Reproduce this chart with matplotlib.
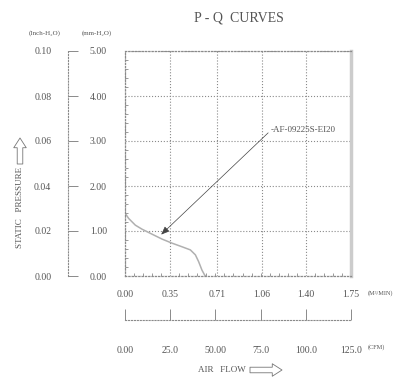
import matplotlib
matplotlib.use('Agg')
import matplotlib.pyplot as plt
from matplotlib.ticker import MultipleLocator

plt.rcParams['font.family'] = ['Liberation Serif', 'DejaVu Serif', 'DejaVu Sans']

# P-Q curve of AF-09225S-EI20 (air flow in m3/min, static pressure in mm-H2O)
flow_m3 = [0.00, 0.028, 0.08, 0.132, 0.209, 0.287, 0.364, 0.441, 0.506,
           0.545, 0.57, 0.596, 0.617, 0.625]
press_mm = [1.40, 1.28, 1.13, 1.04, 0.93, 0.82, 0.73, 0.65, 0.58,
            0.47, 0.32, 0.13, 0.02, 0.00]

m3_ticks = [0.00, 0.35, 0.71, 1.06, 1.40, 1.75]
m3_labels = ['0.00', '0.35', '0.71', '1.06', '1.40', '1.75']
cfm_ticks = [0, 25, 50, 75, 100, 125]
cfm_labels = ['0.00', '25.0', '50.00', '75.0', '100.0', '125.0']
mm_ticks = [0, 1, 2, 3, 4, 5]
mm_labels = ['0.00', '1.00', '2.00', '3.00', '4.00', '5.00']
inch_ticks = [0.00, 0.02, 0.04, 0.06, 0.08, 0.10]
inch_labels = ['0.00', '0.02', '0.04', '0.06', '0.08', '0.10']

model = 'AF-09225S-EI20'
label_pt = (1.13, 3.24)
arrow_pt = (0.28, 0.92)

W, H = 403, 384
txt = '#555555'
ln = '#8a8a8a'
fig = plt.figure(figsize=(W / 100, H / 100), dpi=100)

def fx(px):
    return px / W

def fy(py):
    return 1 - py / H

# main plot
ax = fig.add_axes([fx(125), fy(276), fx(226), (276 - 51) / H])
ax.plot(flow_m3, press_mm, color='#b0b0b0', lw=1.1)
ax.set_xlim(0, 1.75)
ax.set_ylim(0, 5)
ax.set_xticks(m3_ticks)
ax.set_xticklabels(m3_labels)
ax.set_yticks(mm_ticks)
ax.set_yticklabels(mm_labels)
ax.xaxis.set_minor_locator(MultipleLocator(0.07))
ax.yaxis.set_minor_locator(MultipleLocator(0.2))
ax.tick_params(which='major', length=0, labelsize=7, colors=txt)
ax.tick_params(axis='x', which='major', pad=10)
ax.tick_params(axis='y', which='major', pad=13)
ax.tick_params(which='minor', direction='in', length=2.5, color=ln, width=0.6)
ax.grid(True, which='major', color=ln, ls=':', lw=0.8)
for s in ['left', 'bottom', 'top']:
    ax.spines[s].set_color(ln)
    ax.spines[s].set_linestyle(':')
    ax.spines[s].set_linewidth(0.9)
ax.spines['right'].set_color('#cccccc')
ax.spines['right'].set_linewidth(2.5)

ax.annotate('-' + model, xy=arrow_pt, xytext=label_pt, fontsize=6.5, color=txt,
            ha='left', va='center',
            arrowprops=dict(arrowstyle='-|>,head_length=0.5,head_width=0.2',
                            color='#444444', lw=0.5,
                            mutation_scale=10, relpos=(0, 0.5),
                            shrinkA=0, shrinkB=0))

# inch-H2O scale
axi = fig.add_axes([fx(68), fy(276), 0.01, (276 - 51) / H])
axi.set_ylim(0, 0.10)
axi.set_xticks([])
axi.set_yticks(inch_ticks)
axi.set_yticklabels(inch_labels)
axi.tick_params(axis='y', direction='in', length=7, color=ln, width=0.7,
                labelsize=7, labelcolor=txt, pad=12)
for s in ['right', 'top', 'bottom']:
    axi.spines[s].set_visible(False)
axi.spines['left'].set_color(ln)
axi.spines['left'].set_linestyle(':')
axi.patch.set_visible(False)

# CFM scale
axc = fig.add_axes([fx(125), fy(320), fx(226), 0.01])
axc.set_xlim(0, 125)
axc.set_yticks([])
axc.set_xticks(cfm_ticks)
axc.set_xticklabels(cfm_labels)
axc.tick_params(axis='x', direction='in', length=8, color=ln, width=0.7,
                labelsize=7, labelcolor=txt, pad=19)
for s in ['left', 'right', 'top']:
    axc.spines[s].set_visible(False)
axc.spines['bottom'].set_color(ln)
axc.spines['bottom'].set_linestyle(':')
axc.patch.set_visible(False)

# texts
fig.text(fx(239), fy(18), 'P - Q  CURVES', fontsize=10, color=txt, ha='center', va='center')
fig.text(fx(45), fy(33), '(Inch-H\u2082O)', fontsize=5, color=txt, ha='center', va='center')
fig.text(fx(97), fy(33), '(mm-H\u2082O)', fontsize=5, color=txt, ha='center', va='center')
fig.text(fx(380), fy(293), '(M\u00b3/MIN)', fontsize=4.5, color=txt, ha='center', va='center')
fig.text(fx(376), fy(347), '(CFM)', fontsize=4.5, color=txt, ha='center', va='center')
fig.text(fx(20), fy(207), 'STATIC   PRESSURE', fontsize=6.5, color=txt,
         rotation=90, ha='center', va='center')
fig.text(fx(222), fy(370), 'AIR   FLOW', fontsize=6.5, color=txt, ha='center', va='center')

arrow_kw = dict(arrowstyle='simple,head_length=0.7,head_width=0.9,tail_width=0.4',
                fc='white', ec='#777777', lw=0.6, mutation_scale=10,
                shrinkA=0, shrinkB=0)
fig.add_artist(matplotlib.patches.FancyArrowPatch((250, H - 370), (282, H - 370),
                                                  transform=None, **arrow_kw))
fig.add_artist(matplotlib.patches.FancyArrowPatch((20, H - 164), (20, H - 138),
                                                  transform=None, **arrow_kw))

fig.savefig('out.png', dpi=100)
